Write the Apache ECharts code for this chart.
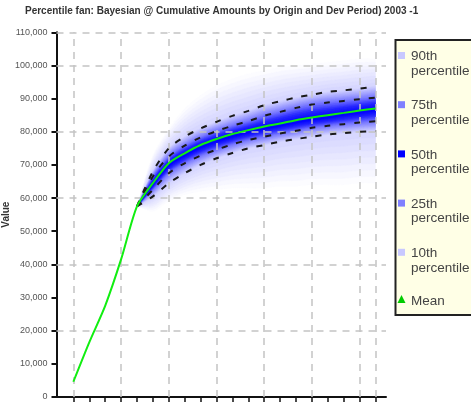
<!DOCTYPE html>
<html><head><meta charset="utf-8">
<script src="https://cdn.jsdelivr.net/npm/echarts@6/dist/echarts.min.js"></script>
<style>html,body{margin:0;padding:0;background:#fff}#c{width:471px;height:406px}</style>
</head><body><div id="c"></div>
<script>
const titleText = 'Percentile fan: Bayesian @ Cumulative Amounts by Origin and Dev Period) 2003 -1';
const yAxisName = 'Value';
const devPeriods = [0,1,2,3,4,5,6,7,8,9,10,11,12,13,14,15,16,17,18,19];
const meanValues = [4600,16500,27500,41500,57500,64500,70500,73500,76000,77800,79300,80500,81600,82500,83500,84300,85000,85700,86400,87000];
const fanPeriods = [4,5,6,7,8,9,10,11,12,13,14,15,16,17,18,19];
const p90 = [57500,68000,75000,78500,81000,83000,84800,86300,88000,89200,90300,91200,92000,92500,93000,93700];
const p75 = [57500,66500,72500,75800,78300,80200,81800,83200,84800,86000,87200,88200,88800,89300,89800,90300];
const p50 = [57500,64200,70000,73000,75500,77300,78800,80000,81100,82000,83000,83800,84500,85300,86000,86700];
const p25 = [57500,62500,67500,70500,72800,74600,76200,77500,78500,79500,80300,81200,81800,82300,82800,83200];
const p10 = [57500,60500,64500,67500,70000,72000,73600,75000,76000,77000,77800,78500,79200,79600,80000,80200];
const shadeLow = [57500,56000,59000,61000,62000,62500,63000,63000,63000,63500,63500,64000,64000,64000,64500,64500];
const shadeHigh = [57500,73000,81000,87000,91000,94000,96000,97500,98500,99500,100000,100500,101000,101500,102000,102000];
const hGridValues = [20000,40000,60000,80000,100000,110000];
const vGridValues = [0,3,6,9,12,15,18,19];
const legendLabels = ['90th','75th','50th','25th','10th'];
const legendSub = 'percentile';
const legendColors = ['#c8c8ff','#8080ff','#0000ff','#8080ff','#c8c8ff'];
const meanLabel = 'Mean';

const lowerAnchors = [shadeLow, p10, p25, p50];
const upperAnchors = [shadeHigh, p90, p75, p50];
const colorStops = [[0,[255,255,255]],[1,[212,212,255]],[2,[120,120,255]],[2.5,[40,40,255]],[3,[0,0,255]]];
function colorAt(L){
  for(let i=0;i<colorStops.length-1;i++){
    const a=colorStops[i], b=colorStops[i+1];
    if(L<=b[0]){const f=(L-a[0])/(b[0]-a[0]);const c=a[1].map((v,j)=>Math.round(v+(b[1][j]-v)*f));return 'rgb('+c.join(',')+')';}
  }
  return 'rgb(0,0,255)';
}
function edge(anchors,L,i){const k=Math.min(Math.floor(L),2);const f=L-k;return anchors[k][i]+(anchors[k+1][i]-anchors[k][i])*f;}
const N = 24;
const SMOOTH = 0.3;

const fanRows = fanPeriods.map((x,i)=>[x,shadeLow[i],shadeHigh[i],p10[i],p25[i],p50[i],p75[i],p90[i]]);

function renderFan(params, api){
  if(params.dataIndex!==0) return null;
  const children=[];
  const xl=api.coord([fanPeriods[0],0])[0], xr=api.coord([fanPeriods[fanPeriods.length-1],0])[0];
  const yt=api.coord([0,110000])[1], yb=api.coord([0,0])[1];
  for(let b=0;b<N;b++){
    const L0=b*3/N, Lm=(b+0.5)*3/N;
    const up=[], dn=[];
    fanPeriods.forEach((x,i)=>{
      up.push(api.coord([x,edge(upperAnchors,L0,i)]));
      dn.push(api.coord([x,edge(lowerAnchors,L0,i)]));
    });
    const n=up.length;
    up.push([up[n-1][0]+12, up[n-1][1]]);
    dn.push([dn[n-1][0]+12, dn[n-1][1]]);
    const c=colorAt(Lm);
    children.push({type:'polygon',shape:{points:up.concat(dn.reverse()),smooth:SMOOTH},style:{fill:c,stroke:c,lineWidth:0.5}});
  }
  return {type:'group',children,clipPath:{type:'rect',shape:{x:xl-1,y:yt,width:xr-xl+1,height:yb-yt}}};
}

const series = [];
series.push({type:'custom',renderItem:renderFan,data:fanRows,encode:{x:0,y:[1,2]},z:2,silent:true,clip:true});
series.push({type:'line',data:[],z:5,silent:true,markLine:{silent:true,symbol:['none','none'],label:{show:false},animation:false,
  lineStyle:{color:'#c4c4c4',width:1.5,type:[7,6]},
  data:[...vGridValues.map(v=>({xAxis:v})),...hGridValues.map(v=>({yAxis:v}))]}});
[p90,p75,p25,p10].forEach(arr=>{
  series.push({type:'line',data:fanPeriods.map((x,i)=>[x,arr[i]]),smooth:SMOOTH,symbol:'none',z:6,silent:true,lineStyle:{color:'#1a1a1a',width:2,type:[6,9]}});
});
series.push({type:'line',data:devPeriods.map((x,i)=>[x,meanValues[i]]),smooth:0.25,symbol:'none',z:7,silent:true,lineStyle:{color:'#11ee11',width:2}});

const FONT='"Liberation Sans", Arial, sans-serif';
const graphics = [{type:'rect',shape:{x:395.5,y:40,width:100,height:275},style:{fill:'#ffffe6',stroke:'#222',lineWidth:2},z:10}];
legendLabels.forEach((t,i)=>{
  const cy=55.5+49.2*i;
  graphics.push({type:'rect',shape:{x:398,y:cy-3.5,width:7,height:7},style:{fill:legendColors[i]},z:11});
  graphics.push({type:'text',x:411,y:cy+1,style:{text:t,fill:'#444',font:'13.5px '+FONT,verticalAlign:'middle'},z:11});
  graphics.push({type:'text',x:411,y:cy+15.5,style:{text:legendSub,fill:'#444',font:'13.5px '+FONT,verticalAlign:'middle'},z:11});
});
graphics.push({type:'polygon',shape:{points:[[401.5,295],[405.5,303],[397.5,303]]},style:{fill:'#00cc00'},z:11});
graphics.push({type:'text',x:411,y:301.5,style:{text:meanLabel,fill:'#444',font:'13.5px '+FONT,verticalAlign:'middle'},z:11});

const chart = echarts.init(document.getElementById('c'));
chart.setOption({
  animation:false,
  backgroundColor:'#fff',
  title:{text:titleText,left:25,top:6,padding:0,textStyle:{fontSize:10,fontWeight:'bold',color:'#333',fontFamily:FONT}},
  grid:{left:56.5,right:85,top:32.3,bottom:9,outerBoundsMode:'none',containLabel:false},
  xAxis:{type:'value',min:-1.06,max:19.66,
    axisLine:{onZero:false,lineStyle:{color:'#111',width:2}},
    axisTick:{show:true,customValues:devPeriods,length:5,lineStyle:{color:'#111',width:1.5}},
    axisLabel:{show:false},splitLine:{show:false}},
  yAxis:{type:'value',min:0,max:110000,interval:10000,name:yAxisName,nameLocation:'middle',nameGap:45,nameMoveOverlap:false,
    nameTextStyle:{fontSize:10,fontWeight:'bold',color:'#333',fontFamily:FONT},
    axisLine:{show:true,onZero:false,lineStyle:{color:'#111',width:2}},
    axisTick:{show:true,length:5,lineStyle:{color:'#111',width:2}},
    axisLabel:{color:'#555',fontSize:9,margin:9,fontFamily:FONT,formatter:v=>v.toLocaleString('en-US')},
    splitLine:{show:false}},
  graphic:graphics,
  series:series
});
</script></body></html>
